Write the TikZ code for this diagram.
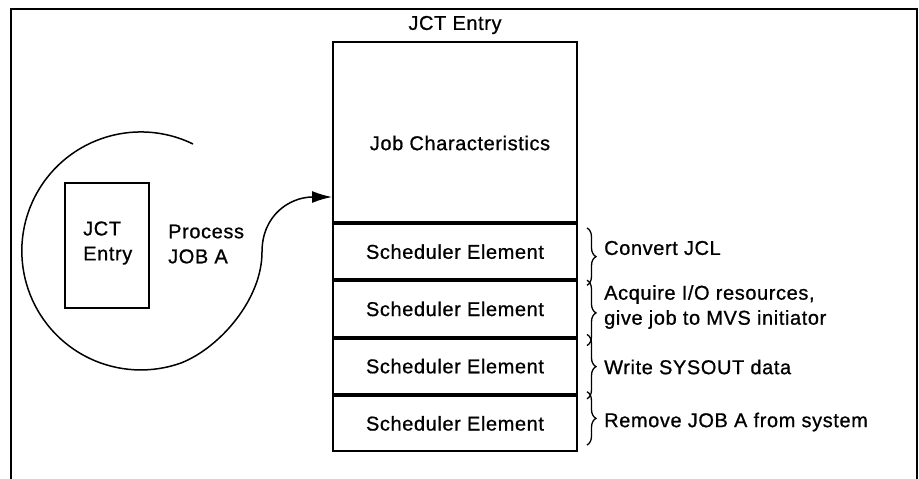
\documentclass[tikz,border=0pt]{standalone}
\usepackage{fontspec}
\setmainfont{Liberation Sans}[LetterSpace=3, FakeBold=0.8]
\usetikzlibrary{arrows.meta,decorations.pathreplacing}
\begin{document}
\begin{tikzpicture}[x=1pt,y=-1pt,
  every node/.style={font=\fontsize{20}{25}\selectfont, inner sep=0pt},
  frame/.style={line width=2pt},
  cell/.style={draw, line width=2pt, minimum width=244pt, inner sep=0pt},
  rowbox/.style={cell, minimum height=55.25pt},
  note/.style={anchor=west, align=left},
  curly/.style={decorate, decoration={brace, amplitude=9pt}, line width=1.3pt}
]
\useasboundingbox (0,0) rectangle (919,479);

% open frame (no bottom edge)
\draw[frame] (11,479) -- (11,9) -- (917,9) -- (917,479);

% JCT entry layout
\node (title) at (455,25) {JCT Entry};
\node[cell, minimum height=180pt] (jc) at (455,132) {};
\node (jctext) at (460,143) {Job Characteristics};
\node[rowbox, anchor=north] (s1) at (jc.south) {Scheduler Element};
\node[rowbox, anchor=north] (s2) at (s1.south) {Scheduler Element};
\node[rowbox, anchor=north] (s3) at (s2.south) {Scheduler Element};
\node[rowbox, anchor=north] (s4) at (s3.south) {Scheduler Element};

% small JCT entry card
\node[draw, line width=2.5pt, minimum width=84pt, minimum height=125pt] (card) at (107,245.5) {};
\node[note] (cardtext) at (83,243) {JCT\\Entry};
\node[note] (proc) at (168,244) {Process\\JOB A};

% process loop ending in the arrow
\coordinate (loopstart) at (193,144);
\coordinate (target) at (jc.west |- 0,197);
\draw[line width=1.5pt, -{Latex[length=20pt,width=12pt]}]
  (loopstart) arc[start angle=-64, end angle=-290, radius=119]
  .. controls (219,348) and (262,300) .. (262,252)
  .. controls (262,215) and (290,197) .. (target);

% braces and notes
\foreach \r/\a/\b in {s1/-5/-5, s2/0/-8, s3/3/-4, s4/3/7}{
  \draw[curly] ([xshift=9pt,yshift=\a pt]\r.north east) -- ([xshift=9pt,yshift=\b pt]\r.south east);
}
\node[note] (n1) at (604,248) {Convert JCL};
\node[note] (n2) at (604,307) {Acquire I/O resources,\\give job to MVS initiator};
\node[note] (n3) at (604,367) {Write SYSOUT data};
\node[note] (n4) at (604,422) {Remove JOB A from system};
\end{tikzpicture}
\end{document}
